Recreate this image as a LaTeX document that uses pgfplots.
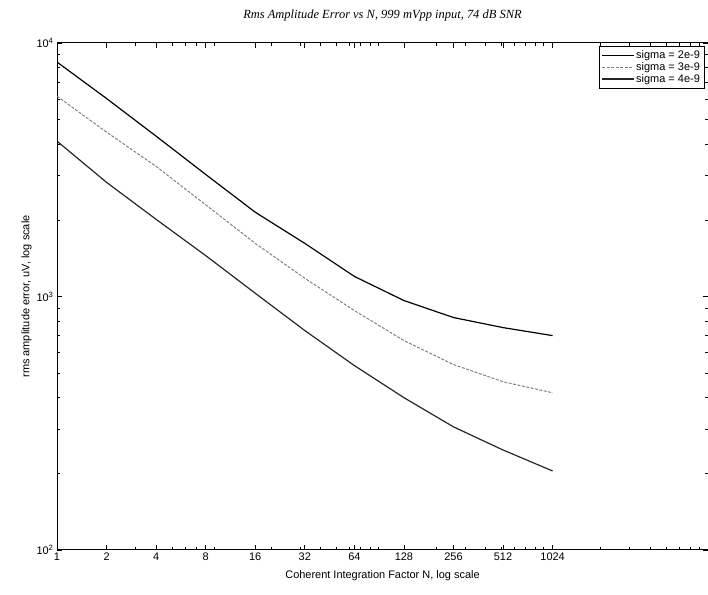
\documentclass[border=0pt]{standalone}
\usepackage{pgfplots}
\pgfplotsset{compat=1.18}
\usepackage{fontspec}
\setmainfont{Liberation Sans}
\newfontfamily\serifit{Liberation Serif}
\begin{document}
\begin{tikzpicture}
\begin{axis}[
  scale only axis,
  width=651bp, height=507bp,
  xmode=log, ymode=log,
  xmin=1, xmax=9000,
  ymin=100, ymax=10000,
  xtick={1,2,4,8,16,32,64,128,256,512,1024},
  xticklabels={1,2,4,8,16,32,64,128,256,512,1024},
  minor xtick={3,5,6,7,9,20,30,40,50,60,70,80,90,200,300,400,500,600,700,800,900,2000,3000,4000,5000,6000,7000,8000},
  ytick={100,1000,10000},
  yticklabels={10\textsuperscript{2},10\textsuperscript{3},10\textsuperscript{4}},
  minor ytick={200,300,400,500,600,700,800,900,2000,3000,4000,5000,6000,7000,8000,9000},
  tick align=inside,
  major tick length=5bp, minor tick length=3bp,
  tick style={black, line width=0.6pt},
  axis line style={line width=1pt},
  ticklabel style={font=\fontsize{11}{13}\selectfont},
  xticklabel style={yshift=1bp},
  title={\serifit\itshape Rms Amplitude Error vs N, 999 mVpp input, 74 dB SNR},
  title style={font=\fontsize{12.5}{14}\selectfont, yshift=12bp},
  xlabel={Coherent Integration Factor N, log scale},
  ylabel={rms amplitude error, uV, log scale},
  label style={font=\fontsize{11}{13}\selectfont},
  xlabel style={yshift=-3bp},
  ylabel style={yshift=-2bp},
  legend image code/.code={\draw[#1] (0cm,0cm) -- (1.1cm,0cm);},
  legend style={at={(0.995,0.995)}, anchor=north east, draw=black, line width=0.8pt,
    font=\fontsize{11}{13}\selectfont, row sep=-1.5bp, inner sep=2.5bp,
    cells={anchor=west}},
  legend cell align=left,
]
\addplot[black, line width=1.2pt] coordinates {
(1,8410) (2,6040) (4,4290) (8,3030) (16,2150) (32,1620) (64,1200) (128,964) (256,826) (512,754) (1024,701)};
\addlegendentry{sigma = 2e-9}
\addplot[gray, dashed, dash pattern=on 3pt off 1.5pt, line width=1pt] coordinates {
(1,6170) (2,4450) (4,3260) (8,2300) (16,1620) (32,1180) (64,880) (128,670) (256,539) (512,461) (1024,417)};
\addlegendentry{sigma = 3e-9}
\addplot[black!85, line width=1.2pt] coordinates {
(1,4100) (2,2820) (4,2015) (8,1450) (16,1030) (32,734) (64,534) (128,399) (256,306) (512,248) (1024,205)};
\addlegendentry{sigma = 4e-9}
\end{axis}
\pgfresetboundingbox
\useasboundingbox ([shift={(-57bp,-45bp)}]current axis.south west) rectangle ([shift={(0bp,43bp)}]current axis.north east);
\end{tikzpicture}
\end{document}
